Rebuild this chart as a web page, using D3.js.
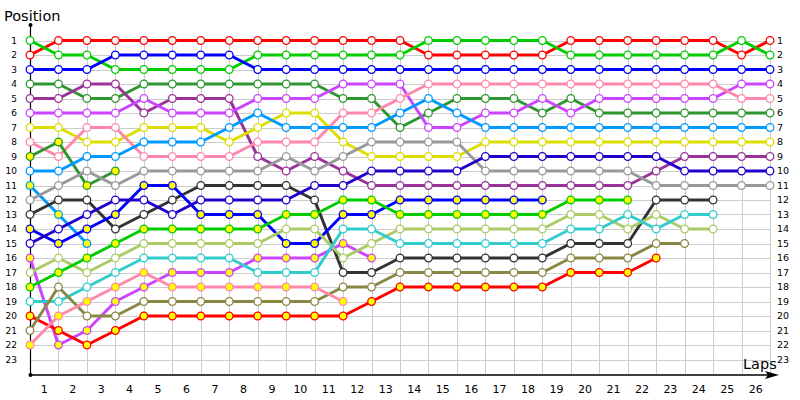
<!DOCTYPE html>
<html><head><meta charset="utf-8">
<script src="https://cdn.jsdelivr.net/npm/d3@7"></script>
<style>body{margin:0;background:#fff}svg{display:block;font-family:"DejaVu Sans",sans-serif}</style>
</head><body><svg id="c" width="800" height="400"></svg>
<script>
// lap indices 0..26 (0 = grid/start)
const lapLabels = d3.range(1, 27);
const positionLabels = d3.range(1, 24);

// positions per lap (index 0 = start)
const redA      = [2,1,1,1,1,1,1,1,1,1,1,1,1,1,2,2,2,2,2,1,1,1,1,1,1,2,1];
const greenA    = [1,2,2,3,3,3,3,3,2,2,2,2,2,2,1,1,1,1,1,2,2,2,2,2,2,1,2];
const blueA     = [3,3,3,2,2,2,2,2,3,3,3,3,3,3,3,3,3,3,3,3,3,3,3,3,3,3,3];
const dkGreenA  = [4,4,5,5,4,4,4,4,4,4,4,5,5,7,6,5,5,5,6,5,6,6,6,6,6,6,6];
const purpleA   = [5,5,4,4,6,5,5,5,9,10,9,10,11,11,11,11,11,11,11,11,11,11,10,9,9,9,9];
const violetA   = [6,6,6,6,5,6,6,6,5,5,5,4,4,4,7,7,6,6,5,6,5,5,5,5,5,4,4];
const yellowA   = [7,7,8,8,7,7,7,8,7,6,6,8,9,9,9,9,8,8,8,8,8,8,8,8,8,8,8];
const pinkA     = [8,9,7,7,9,9,9,9,8,8,8,6,6,5,4,4,4,4,4,4,4,4,4,4,4,5,5];
const dkGreenB  = [9,8,11,10];
const ltBlueA   = [10,10,9,9,8,8,8,7,6,7,7,7,7,6,5,6,7,7,7,7,7,7,7,7,7,7,7];
const ltBlueB   = [11,13,15];
const greyA     = [12,11,10,11,10,10,10,10,10,9,10,9,8,8,8,8,10,10,10,10,10,10,11,11,11,11,11];
const blackA    = [13,12,12,14,13,12,11,11,11,11,12,17,17,16,16,16,16,16,16,15,15,15,12,12,12];
const blueB     = [14,15,14,13,11,11,13,13,13,15,15,13,13,12,12,12,12,12,12];
const navyA     = [15,14,13,12,12,13,12,12,12,12,11,11,10,10,10,10,9,9,9,9,9,9,9,10,10,10,10];
const violetB   = [16,22,21,19,18,17,17,17,16,16,16,15,16];
const ltOliveA  = [17,16,17,16,15,15,15,15,15,14,14,16,15,14,14,14,14,14,14,13,13,14,13,14,14];
const greenB    = [18,17,16,15,14,14,14,14,14,13,13,12,12,13,13,13,13,13,13,12,12,12];
const tealA     = [19,19,18,17,16,16,16,16,17,17,17,14,14,15,15,15,15,15,15,14,14,13,14,13,13];
const redB      = [20,21,22,21,20,20,20,20,20,20,20,20,19,18,18,18,18,18,18,17,17,17,16];
const oliveA    = [21,18,20,20,19,19,19,19,19,19,19,18,18,17,17,17,17,17,17,16,16,16,15,15];
const pinkB     = [22,20,19,18,17,18,18,18,18,18,18,19];

const seriesData = [redA, greenA, blueA, dkGreenA, purpleA, violetA, yellowA, pinkA, dkGreenB, ltBlueA, ltBlueB,
  greyA, blackA, blueB, navyA, violetB, ltOliveA, greenB, tealA, redB, oliveA, pinkB];
const seriesColors = ["#ff0000","#00cc00","#0000ff","#2e962e","#993399","#cc44ff","#dddd00","#ff88aa","#2e962e","#0099ff","#0099ff",
  "#999999","#333333","#0000ff","#2200cc","#cc44ff","#aacc66","#00cc00","#33cccc","#ff0000","#888844","#ff88aa"];
const seriesSecond = [0,0,0,0,0,0,0,0,1,0,1, 0,0,1,0,1,0,1,0,1,0,1];

const svg = d3.select("#c");
const x = d3.scaleLinear().domain([0, 26]).range([30, 770]);
const y = d3.scaleLinear().domain([0, 24]).range([26, 374]);

// grid
const g = svg.append("g").attr("stroke", "#cccccc").attr("stroke-width", 1);
positionLabels.forEach(p => g.append("line").attr("x1", x(0)).attr("x2", x(26)).attr("y1", Math.round(y(p))+0.5).attr("y2", Math.round(y(p))+0.5));
d3.range(1, 27).forEach(i => g.append("line").attr("x1", Math.round(x(i))+0.5).attr("x2", Math.round(x(i))+0.5).attr("y1", y(1)).attr("y2", y(24)));

// axes
svg.append("line").attr("x1", 30.5).attr("x2", 30.5).attr("y1", 25).attr("y2", 375).attr("stroke", "#000").attr("stroke-width", 1.2);
svg.append("line").attr("x1", 30).attr("x2", 772).attr("y1", 375).attr("y2", 375).attr("stroke", "#000").attr("stroke-width", 1.5);
svg.append("path").attr("d", "M765,371 L779,375 L765,379 L768,375 Z").attr("fill", "#000");
svg.append("circle").attr("cx", 30.5).attr("cy", 25).attr("r", 2).attr("fill", "#000");
svg.append("circle").attr("cx", 30.5).attr("cy", 375).attr("r", 2).attr("fill", "#000");

// labels
svg.append("text").attr("x", 4).attr("y", 21).attr("font-size", 14.5).text("Position");
svg.append("text").attr("x", 743).attr("y", 369).attr("font-size", 14.5).text("Laps");
positionLabels.forEach(p => {
  svg.append("text").attr("x", 17).attr("y", y(p) + 3.2).attr("text-anchor", "end").attr("font-size", 9).text(p);
  svg.append("text").attr("x", 777).attr("y", y(p) + 3.2).attr("font-size", 9.5).text(p);
});
lapLabels.forEach(l => svg.append("text").attr("x", x(l - 0.5)).attr("y", 393).attr("text-anchor", "middle").attr("font-size", 11).text(l));

// lines
const line = d3.line().x((d, i) => x(i)).y(d => y(d));
seriesData.forEach((s, k) => {
  svg.append("path").datum(s).attr("d", line).attr("fill", "none")
    .attr("stroke", seriesColors[k]).attr("stroke-width", 3).attr("stroke-linejoin", "round");
});
seriesData.forEach((s, k) => {
  svg.append("g").selectAll("circle").data(s).join("circle")
    .attr("cx", (d, i) => x(i)).attr("cy", d => y(d)).attr("r", 3.8)
    .attr("fill", seriesSecond[k] ? "#ffff00" : "#ffffff")
    .attr("stroke", seriesColors[k]).attr("stroke-width", 1.3);
});
</script></body></html>
